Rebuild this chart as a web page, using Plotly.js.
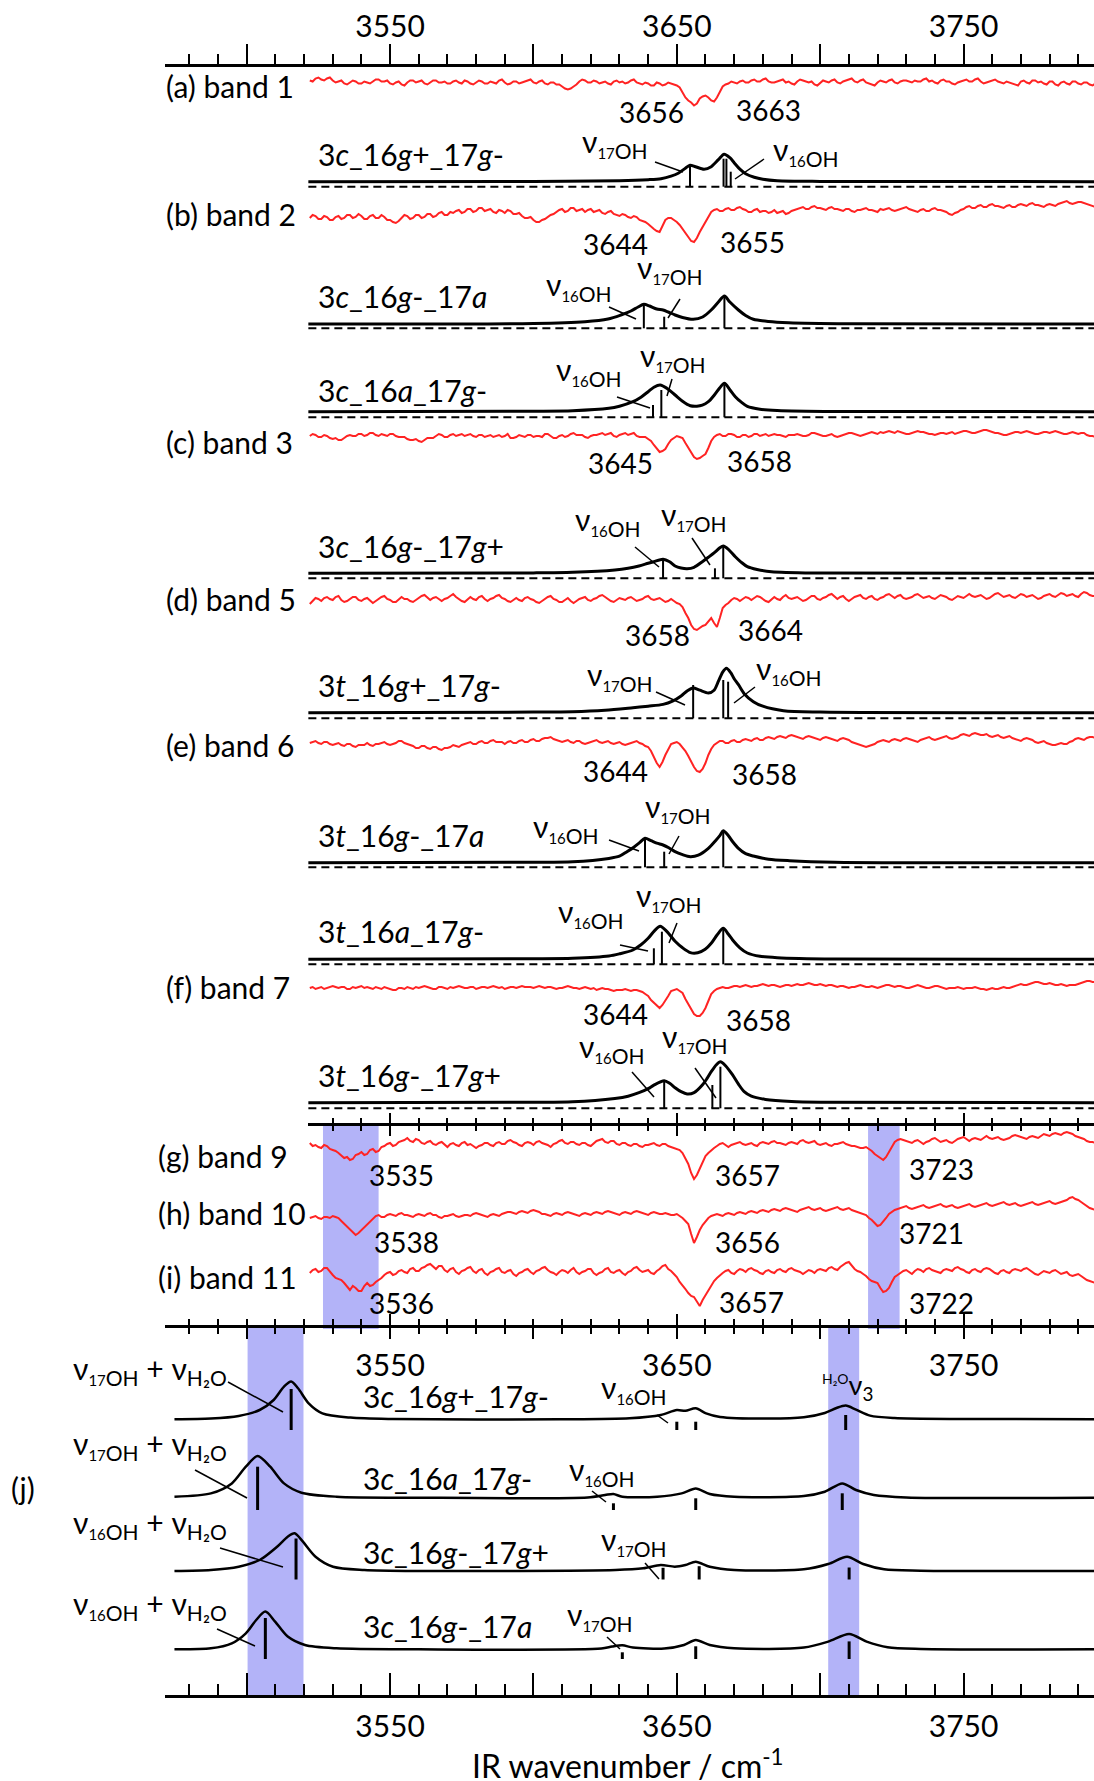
<!DOCTYPE html>
<html><head><meta charset="utf-8">
<script src="https://cdn.plot.ly/plotly-3.0.1.min.js"></script>
<style>html,body{margin:0;padding:0;background:#fff}#chart{width:1094px;height:1781px}</style>
</head><body><div id="chart"></div>
<script>
// ================= DATA =================
// IR wavenumber grid of the experimental (depletion) spectra, cm-1 (even and odd points)
const wn = [3522,3524,3526,3528,3530,3532,3534,3536,3538,3540,
3542,3544,3546,3548,3550,3552,3554,3556,3558,3560,
3562,3564,3566,3568,3570,3572,3574,3576,3578,3580,
3582,3584,3586,3588,3590,3592,3594,3596,3598,3600,
3602,3604,3606,3608,3610,3612,3614,3616,3618,3620,
3622,3624,3626,3628,3630,3632,3634,3636,3638,3640,
3642,3644,3646,3648,3650,3652,3654,3656,3658,3660,
3662,3664,3666,3668,3670,3672,3674,3676,3678,3680,
3682,3684,3686,3688,3690,3692,3694,3696,3698,3700,
3702,3704,3706,3708,3710,3712,3714,3716,3718,3720,
3722,3724,3726,3728,3730,3732,3734,3736,3738,3740,
3742,3744,3746,3748,3750,3752,3754,3756,3758,3760,
3762,3764,3766,3768,3770,3772,3774,3776,3778,3780,
3782,3784,3786,3788,3790,3792,3794,3796];
const wnOdd = [3523,3525,3527,3529,3531,3533,3535,3537,3539,3541,
3543,3545,3547,3549,3551,3553,3555,3557,3559,3561,
3563,3565,3567,3569,3571,3573,3575,3577,3579,3581,
3583,3585,3587,3589,3591,3593,3595,3597,3599,3601,
3603,3605,3607,3609,3611,3613,3615,3617,3619,3621,
3623,3625,3627,3629,3631,3633,3635,3637,3639,3641,
3643,3645,3647,3649,3651,3653,3655,3657,3659,3661,
3663,3665,3667,3669,3671,3673,3675,3677,3679,3681,
3683,3685,3687,3689,3691,3693,3695,3697,3699,3701,
3703,3705,3707,3709,3711,3713,3715,3717,3719,3721,
3723,3725,3727,3729,3731,3733,3735,3737,3739,3741,
3743,3745,3747,3749,3751,3753,3755,3757,3759,3761,
3763,3765,3767,3769,3771,3773,3775,3777,3779,3781,
3783,3785,3787,3789,3791,3793,3795];

// experimental IR-UV depletion signals (arb. units, 0 = baseline, negative = depletion)
const band1 = [2,4,3,4,2,1,-1,0,1,-1, 0,1,3,1,-1,0,-2,0,2,1, -1,0,2,0,-1,1,0,2,-1,0, 1,-1,0,2,0,-1,1,0,2,0,
 1,-1,0,-2,-4,-7,-4,1,2,0, 1,0,-1,1,0,-1,2,0,-2,-1, -3,-1,-2,-1,-3,-10,-18,-23,-16,-13, -18,-15,-4,-1,0,1,0,2,1,3,
 1,0,2,0,-1,1,2,0,-2,0, 1,2,0,1,3,1,2,0,-2,0, 1,2,0,1,2,0,1,3,1,0, 2,1,-1,0,2,1,3,1,0,2, 1,-1,0,-2,1,0,2,0,-1,1, -2,0,-1,1,-1,0,-2,-1];
const band1Odd = [1,5,2,5,0,2,-2,2,-1,1, -1,3,1,2,-2,1,-3,2,0,2, -2,2,0,1,-1,2,-1,1,-2,2, -1,1,-1,3,-2,1,-1,1,3,-1,
 2,-2,0,-2,-6,-6,-2,3,0,2, -1,1,-2,2,1,0,3,-1,0,-3, 0,-3,0,-2,-5,-15,-20,-21,-14,-15, -19,-10,-2,1,-1,2,0,3,1,4,
 0,1,3,1,-2,3,1,1,-3,2, 0,3,-1,2,4,0,3,-1,-3,2, 0,3,-1,2,1,2,1,4,2,-1, 3,1,-2,1,3,1,4,-1,1,3, 0,1,-1,-3,2,-1,2,1,-2,1, -3,1,-2,1,-2,0,-3];
const band2 = [-6,-4,-7,-5,-8,-4,-6,-3,-5,-4, -7,-3,-6,-5,-8,-11,-6,-4,-6,-3, -5,-2,-4,0,-3,-1,2,0,3,1, 4,2,0,2,-1,1,-2,-4,-6,-8,
 -10,-7,-3,0,3,1,4,2,0,3, 1,-1,0,-2,-4,-3,-6,-5,-9,-12, -17,-20,-8,-6,-10,-17,-26,-30,-20,-10, 0,3,1,4,2,5,2,0,3,1,
 -1,2,0,-2,1,3,5,3,6,4, 2,5,3,1,3,0,2,4,2,0, 2,4,1,3,5,2,0,3,1,4, 2,0,-3,0,3,6,4,7,5,8, 6,4,7,5,8,6,9,7,5,8, 6,9,11,8,10,9,7,5];
const band2Odd = [-3,-7,-4,-8,-5,-7,-3,-6,-2,-7, -4,-6,-3,-8,-10,-9,-3,-7,-3,-6, -2,-5,-1,-3,0,1,-1,3,0,4,
 1,3,-1,1,2,-2,-1,-6,-5,-10, -8,-5,-2,2,0,4,1,3,2,0, 2,-2,1,-3,-2,-5,-4,-8,-10,-15, -19,-14,-6,-8,-13,-22,-29,-26,-15,-4,
 2,1,3,2,4,3,0,2,0,1, 0,-1,1,-1,2,4,3,5,4,3, 4,3,2,3,1,2,3,2,1,3, 3,2,2,4,3,1,2,1,3,2, 1,-2,-1,2,5,4,6,5,7,6,
 5,6,5,7,7,8,7,6,7,7, 8,10,9,9,10,8,6];
const band3 = [0,1,-1,0,-3,-4,-2,1,0,2, 1,3,0,1,2,0,-1,-3,-4,-5, -4,-2,0,1,-1,2,1,0,2,-1, 1,0,-1,1,0,-2,-1,0,1,-1,
 0,2,0,-2,1,0,3,1,-1,0, 1,3,2,0,1,3,2,0,-1,-3, -9,-16,-13,-4,0,-2,-12,-21,-22,-18, -5,1,0,2,1,-1,1,0,2,1,
 0,2,1,-1,1,2,0,1,3,1, 0,2,-1,1,3,2,0,2,4,2, 3,5,3,4,2,3,5,4,2,1, 3,2,4,3,5,4,3,5,6,4, 3,1,2,4,3,5,3,2,4,3, 5,3,2,4,2,3,0,-1];
const band3Odd = [2,-1,1,-2,-2,-4,0,0,2,0, 3,1,2,0,2,-1,-1,-4,-3,-6, -2,-2,2,-1,1,0,2,1,0,1, -1,1,0,-1,2,-2,1,-1,1,0,
 -1,2,-2,0,-1,2,1,1,-2,1, 2,1,3,-1,2,1,3,-1,-1,-5, -13,-15,-8,-2,-1,-7,-17,-23,-20,-12, -1,2,0,2,-1,1,-1,2,0,2,
 1,1,0,1,1,1,0,3,2,0, 1,0,0,2,3,1,1,3,3,4, 4,4,5,3,2,4,4,3,2,2, 3,3,2,4,5,3,4,6,5,3, 2,1,3,4,4,4,2,3,4,4, 4,2,3,3,3,1,0];
const band5 = [-4,2,-1,3,0,4,-2,1,3,-1, 2,-3,1,4,0,-2,3,1,-2,2, 5,0,3,-1,2,6,1,-2,3,0, 4,-1,2,5,1,-2,2,-1,3,0,
 -3,1,4,0,-2,2,-3,1,3,-1, 2,5,1,-2,2,0,3,-1,1,4, 0,2,-2,1,-3,-7,-18,-29,-28,-25, -18,-27,-8,-3,2,-1,3,0,4,1,
 -2,3,0,5,1,3,-1,2,4,0, 3,6,1,4,-1,3,5,1,4,0, 3,6,2,5,1,3,6,2,4,1, 5,3,0,4,2,6,3,5,1,4, 7,3,5,2,6,3,5,1,4,6, 3,7,4,6,3,8,5,4];
const band5Odd = [-1,1,2,1,3,0,-1,3,0,1, -1,-1,3,1,-2,1,1,-1,0,4, 2,2,1,1,4,3,-1,1,1,3, 1,1,4,2,-1,0,0,2,1,-2,
 -1,3,1,-2,0,-1,-1,2,0,1, 4,3,-1,0,1,2,1,0,3,1, 1,0,-1,-1,-4,-13,-25,-30,-26,-22, -23,-18,-5,0,1,1,2,2,3,-1,
 1,1,3,2,2,1,0,4,1,2, 5,3,3,1,1,4,2,3,1,2, 5,4,4,2,2,5,4,3,2,3, 4,1,2,3,4,4,4,3,2,6, 5,4,3,4,5,4,3,2,5,4, 5,6,5,4,6,7,4];
const band6 = [0,2,-1,1,-2,0,-3,-1,-4,-2, 0,-3,-1,1,-2,0,2,-1,-3,-5, -3,-6,-4,-7,-5,-2,-4,-1,1,-1, 2,0,3,1,-1,2,0,3,1,4,
 2,5,6,3,1,3,0,2,-1,1, 3,0,2,-1,1,-2,0,2,-1,-4, -14,-24,-12,-1,1,-4,-13,-24,-29,-20, -6,0,2,0,3,1,4,2,5,3,
 6,4,7,5,8,6,4,7,5,3, 6,4,2,5,3,0,-2,-4,-2,1, 3,1,4,2,5,3,1,4,6,3, 5,7,4,6,9,7,10,8,9,6, 8,5,7,4,2,5,3,0,2,-1, -2,0,-1,2,5,3,6,5];
const band6Odd = [1,0,1,-1,-1,-2,-1,-3,-2,-2, -2,-1,0,-1,-1,2,0,-2,-5,-3, -5,-4,-6,-5,-4,-3,-2,0,-1,1, 0,2,1,1,1,0,2,1,3,2,
 4,5,4,2,2,1,2,0,0,2, 1,1,0,0,-1,-1,1,0,-3,-8, -20,-19,-6,0,-1,-8,-19,-28,-26,-12, -2,2,0,2,1,3,3,4,3,5,
 5,6,6,7,7,5,6,6,4,5, 5,3,4,4,1,-1,-3,-3,-1,2, 2,3,3,4,4,2,3,5,4,4, 6,5,5,8,8,9,9,8,7,7, 6,6,5,3,4,4,1,1,0,-2, -1,-1,1,4,4,5,6];
const band7 = [0,-1,1,0,2,0,1,-1,0,2, 1,-1,0,1,-1,-2,0,1,-1,0, 2,0,-1,1,-1,0,2,0,1,-1, 1,0,2,0,-1,1,0,2,1,0,
 2,0,1,-1,0,2,0,-1,1,-1, -2,0,-1,-3,-2,-1,-3,-2,-4,-8, -15,-20,-13,-3,-1,-5,-16,-26,-28,-20, -6,-1,1,0,2,1,3,1,2,4,
 2,3,1,3,2,4,3,5,3,4, 2,3,1,2,0,1,3,1,2,0, 2,3,1,2,0,1,3,1,0,2, 1,-1,0,1,-1,0,1,-1,-2,0, -1,1,0,2,4,3,5,6,4,5, 3,4,2,3,4,6,7,6];
const band7Odd = [1,0,-1,1,1,1,-1,1,1,0, 0,1,-1,0,-2,0,-1,0,1,1, 1,-1,1,0,1,1,1,0,1,0, 1,1,1,1,0,1,1,1,1,1,
 1,1,0,0,1,1,0,0,0,0, -1,-1,-2,-2,-2,-2,-2,-3,-6,-12, -18,-17,-8,-2,-3,-11,-21,-28,-25,-13, -3,0,0,1,2,2,2,2,3,3,
 3,2,2,3,3,3,4,4,3,3, 3,2,2,1,1,2,2,1,1,1, 3,2,2,1,0,2,2,0,1,2, 0,0,0,0,0,0,0,-1,-1,-1, 0,0,1,3,3,4,6,5,4,4, 3,3,3,3,5,7,6];
const band9 = [3,1,-2,0,-4,-7,-12,-14,-9,-6, -8,-3,-5,0,3,1,5,8,4,6, 2,5,1,4,-1,3,0,4,2,-2, 1,3,0,4,2,6,3,0,4,1,
 5,2,-1,3,6,2,4,1,3,0, 5,7,3,5,1,3,0,2,-1,1, 3,0,2,-1,-3,-7,-18,-33,-22,-10, -4,0,3,-1,2,4,1,3,0,4,
 2,5,3,1,4,2,6,3,5,1, 3,0,2,4,1,0,-2,-1,-5,-10, -14,-6,4,7,5,3,6,2,5,8, 4,6,3,7,9,5,8,6,10,7, 9,6,8,11,9,7,10,8,12,10, 13,11,14,12,9,7,4,3];
const band9Odd = [0,-1,1,-3,-5,-10,-11,-13,-8,-9, -4,-6,-1,2,0,4,6,5,7,3, 4,2,3,1,2,1,3,1,0,0, 3,1,3,2,5,4,1,3,3,4,
 3,1,2,5,3,4,2,3,1,3, 6,4,5,2,3,1,2,0,1,2, 1,2,0,-2,-4,-12,-27,-29,-15,-7, -2,2,1,1,3,2,2,1,3,3,
 4,3,2,3,3,5,4,4,2,2, 1,2,3,2,0,-1,-2,-3,-8,-12, -11,-1,6,6,4,5,4,4,7,6, 5,4,5,8,7,7,7,8,8,8, 7,7,10,10,8,9,9,10,11,12, 12,13,13,10,8,5,4];
const band10 = [0,2,-1,1,2,0,-6,-11,-17,-12, -7,0,3,1,4,2,5,3,1,4, 2,5,3,0,2,4,1,3,2,5, 3,1,4,2,5,6,4,7,5,8,
 6,4,2,5,3,6,4,2,5,3, 6,4,7,5,3,6,4,7,5,3, 6,4,5,3,4,0,-6,-25,-12,-3, 2,4,2,5,3,6,4,7,5,8,
 6,9,7,10,8,6,9,11,8,10, 7,9,11,8,10,7,5,3,-2,-8, -4,4,8,10,12,9,11,13,10,12, 14,11,13,10,12,14,11,13,15,12, 14,16,13,15,12,14,16,13,15,17, 14,16,18,21,18,14,10,8];
const band10Odd = [1,0,1,0,1,-3,-9,-14,-15,-9, -3,2,1,3,3,4,3,2,3,3, 4,3,1,2,3,2,2,3,4,4, 2,3,3,4,6,5,6,6,7,7,
 4,3,4,4,5,5,3,4,4,5, 5,6,6,4,5,5,6,6,4,5, 5,4,4,3,2,-3,-16,-19,-7,0, 3,3,4,4,5,5,6,6,7,7,
 8,8,9,9,7,8,10,9,9,8, 8,10,9,9,8,6,4,0,-5,-7, 0,6,9,11,10,10,12,11,11,13, 12,12,11,11,13,12,12,14,13,13, 15,14,14,13,13,15,14,14,16,15, 15,17,20,19,16,12,9];
const band11 = [0,4,2,5,-2,-6,-10,-17,-15,-18, -10,-12,-7,-2,1,-1,3,0,5,2, 6,9,4,7,1,5,-1,3,6,0, 4,-2,2,5,0,3,-3,1,4,-1,
 3,6,1,-2,3,0,5,-1,2,4, -2,1,5,0,3,-2,2,6,1,3, -1,4,8,2,-4,-12,-20,-24,-33,-22, -12,-5,0,3,-1,4,1,5,2,-1,
 3,0,4,1,5,2,-1,3,0,4, 2,6,3,8,11,4,1,-3,-8,-10, -19,-15,-4,0,3,-1,4,1,5,2, 0,4,2,6,3,0,4,1,5,2, -1,3,0,4,2,5,1,-2,2,0, 3,-1,1,-3,-1,-5,-8,-10];
const band11Odd = [3,1,5,1,-5,-7,-14,-13,-18,-13, -13,-9,-5,0,-2,2,1,4,2,5, 8,6,7,3,4,1,2,5,2,3, 0,1,4,1,2,-1,0,3,1,2,
 5,3,0,1,2,3,1,1,4,0, 0,4,1,2,0,1,5,3,2,0, 2,7,4,-1,-9,-16,-23,-29,-27,-17, -8,-2,2,0,2,3,4,3,0,2,
 1,3,2,4,3,1,1,2,3,3, 5,4,6,10,7,2,-1,-6,-9,-15, -18,-9,-2,2,1,2,3,4,3,1, 3,3,5,4,1,3,2,4,4,0, 2,1,3,3,4,3,-1,0,1,2, 1,0,-2,-2,-3,-7,-9];

// simulated IR spectra (wavenumber, intensity) and stick spectra (position, intensity)
const sim1X = [3521.5,3600,3630,3640,3644.5,3648,3650.5,3653,3654.6,3656.5,3659.5,3662,3664.5,3666.5,3668.5,3670,3672,3674,3677,3680,3685,3700,3796];
const sim1Y = [0,0.3,1,2,3,5.5,8.5,13.5,16.5,15,12.5,15,22,27.5,24,19,12.5,8,4.5,2.5,1,0.3,0];
const sim1SP = [3654.6,3666.3,3667.3,3668.8], sim1SI = [21.5,28,28,15];
const sim2X = [3521.5,3600,3618,3626,3630.5,3634,3636.5,3638.5,3640.5,3643,3645.2,3647,3649.4,3652,3655.7,3659,3662,3664.5,3666.6,3668.5,3671.5,3674,3676.7,3682,3689,3710,3796];
const sim2Y = [0,0.5,2.3,5,9,13,17,19.7,18,15,14,12,9,6.5,4.7,7,14,22,28,22,14,8.5,4.7,2.5,1.3,0.3,0];
const sim2SP = [3638.5,3645.6,3666.6], sim2SI = [24.3,11.6,31.6];
const sim3X = [3521.5,3600,3613.7,3626.3,3630,3634.7,3637.5,3640,3642,3644.2,3646.5,3649.4,3652,3654.7,3657,3658.9,3661,3663.1,3665,3666.6,3668.5,3670.4,3672.5,3674.6,3679,3685,3705,3796];
const sim3Y = [0,0.5,1,3.4,5.5,10,14.5,20,24.5,26.7,23.5,16.7,10.5,6,5.5,6.5,10,16.7,24,28.4,22,15,9.5,5.3,2.5,1.3,0.3,0];
const sim3SP = [3641.7,3644.6,3666.6], sim3SI = [12.3,27.3,32.3];
const sim4X = [3521.5,3600,3613.7,3628.4,3633,3636.8,3640,3642,3645.2,3647.5,3649.4,3651.5,3653.6,3656,3658.9,3661,3663.1,3665,3666.2,3668,3670.4,3672.5,3674.6,3678,3683,3697.7,3796];
const sim4Y = [0,0.4,1,3.3,5,7.3,10,11.6,14,11.5,7.3,5.3,4.6,6,11.6,16,20.6,25.5,27.3,24,16.6,11,6.6,3.8,1.6,0.3,0];
const sim4SP = [3645.2,3663.3,3666.2], sim4SI = [19,10,31.6];
const sim5X = [3521.5,3600,3613.7,3625,3634.7,3640,3645.2,3648.5,3651.5,3653.7,3655.7,3658,3661,3663,3664.6,3666,3667.3,3668.8,3670,3671.5,3673.5,3676.7,3680,3687.2,3700,3796];
const sim5Y = [0,0.6,1,2.5,5,6.5,8.3,11.5,16.7,22,24.7,22.5,19.7,22.5,32,40.5,44.4,40,34,28,19,11,6.5,2,0.6,0];
const sim5SP = [3655.7,3666.2,3667.9], sim5SI = [33.3,38.3,36.6];
const sim6X = [3521.5,3600,3613.7,3626.3,3630,3632.6,3635,3637,3638.9,3641,3643,3645.2,3647.2,3649.4,3652,3654.7,3657.5,3661,3663.5,3665,3666.2,3668,3669.5,3671.5,3674,3676.7,3682,3689.3,3705,3796];
const sim6Y = [0,0.4,1,4.3,6.5,11,15.5,20,24.4,22,19.5,17.7,15,11,8,6,7.5,14.3,22,27,32,27,21,14.3,9,6.7,3.5,2,0.5,0];
const sim6SP = [3638.9,3645.6,3666.2], sim6SI = [29,15.6,35.6];
const sim7X = [3521.5,3600,3613.7,3626.3,3630,3634.7,3637.5,3640,3642.2,3644.2,3646.5,3649.4,3652,3654.7,3657.3,3659.9,3662,3664.1,3666.2,3668,3669.4,3672,3674.6,3679,3685,3705,3796];
const sim7Y = [0,0.5,1,3.3,5.5,9.3,14.5,21,28.5,33,28,18,11.5,6.7,6.5,10,16,24.5,31,25,19.6,11.5,6.3,3,1.6,0.3,0];
const sim7SP = [3642,3644.8,3666.2], sim7SI = [16,32.6,36];
const sim8X = [3521.5,3600,3613.7,3628.4,3633,3636.8,3640,3642,3645.6,3647.5,3649.4,3651.5,3653.6,3656,3658.9,3660.5,3662,3663.8,3665.2,3667,3669.4,3671.5,3673.5,3676,3680.9,3690,3700,3796];
const sim8Y = [0,0.5,1,4.3,6.5,10,14,17.6,22,19.5,15,11,8.7,10,17.6,24,31,38,41,37,28,18.5,11,6.5,3.3,1.2,0.5,0];
const sim8SP = [3645.6,3662.4,3665.2], sim8SI = [26.6,23.3,41.6];
// (j) spectra including the combination region
const j1X = [3474.8,3487.5,3497.2,3504.5,3509.4,3513,3515.5,3517.9,3521.6,3526.4,3536.2,3550.8,3609,3633.5,3644.4,3650,3653,3656.6,3660.2,3665.1,3682.1,3694.3,3701.6,3705.7,3708.9,3712.5,3717.4,3725.9,3750,3796];
const j1Y = [0,0.7,3.3,9.3,19.3,32.7,37.7,31,16,6,1.7,0.3,0,1,4.3,9.3,8.5,11,6,2.3,0.7,2,6.3,11.3,13.7,9.7,3.7,1.3,0.3,0];
const j1SP = [3515.5,3650,3656.6,3708.9], j1SI = [41,8.3,8.3,15];
const j2X = [3474.8,3487.5,3494.8,3499.7,3503.8,3508.2,3513,3519.1,3531.3,3560,3618.9,3625,3627.9,3631,3643.2,3651.7,3656.6,3661.5,3670,3694.3,3701.6,3707.7,3712.5,3718.7,3730,3796];
const j2Y = [1,4.3,14.3,31,41.7,31,14.3,5,1,0,0.3,2.7,3.7,1,1,4.3,9.3,3.7,1,1.7,6,14.3,7.7,2.7,0.3,0];
const j2SP = [3503.8,3627.9,3656.6,3707.7], j2SI = [43.3,6.7,11.7,16.7];
const j3X = [3474.8,3487.5,3497.2,3504.5,3510.6,3514.3,3516.7,3519.6,3524,3530.1,3541,3560,3628.6,3638.3,3644.4,3649.3,3653,3656.6,3661.5,3670,3694.3,3702.8,3709.4,3715,3722.3,3735,3796];
const j3Y = [0,1,4.3,11,24.3,34.3,37.7,29.3,14.3,4.3,1,0,1,2.7,6,4.3,6,9.3,4.3,1,1.7,7,14.3,7,1.7,0.3,0];
const j3SP = [3517.2,3645.2,3657.8,3710.1], j3SI = [41,11.7,13.3,12];
const j4X = [3474.8,3487.5,3494.8,3499.7,3503.3,3506.5,3509.9,3514.3,3520.3,3531.3,3560,3623.7,3627.4,3631,3634.7,3645.6,3652.5,3656.6,3661.5,3670,3694.3,3702.8,3710.1,3716.2,3723.5,3735,3796];
const j4Y = [0,1,6,16,29.3,37.7,27.7,12.7,4.3,1,0,0.7,2.7,4,1.7,0.7,4.3,9.3,4.3,1,1.7,7.7,15.3,7.7,2,0.3,0];
const j4SP = [3506.5,3631,3656.6,3710.1], j4SI = [41,6.7,12.7,17.6];

// highlighted wavenumber regions
const hlExp = [[3526.6,3546],[3716.7,3727.7]];
const hlSim = [[3500.3,3519.8],[3702.8,3713.6]];

// axis ticks
const tickVals = [3500,3550,3600,3650,3700,3750];
const tickText = ['','3550','','3650','','3750'];

// ================= LAYOUT / STYLE =================
const W = 1094, H = 1781, L = 165;
const XR = [3471.5, 3795.5];
const PXPERCM = (W - L) / (XR[1] - XR[0]);
const X = px => (px - L) / (W - L);
const Y = py => 1 - py / H;
const FONT = 'Lato, "Noto Sans", "DejaVu Sans", sans-serif';
const RED = '#ff2323';
const BLUE = '#b3b3f8';

const traces = [];
const shapes = [];
const annotations = [];

// merge the even- and odd-wavenumber samples of a spectrum
function merge(a, b){ const out = []; a.forEach((v, i) => { out.push(v); if (i < b.length) out.push(b[i]); }); return out; }
const wnAll = merge(wn, wnOdd);

// experimental traces: [values, odd values, baseline px]
const expSet = [[band1, band1Odd, 82.5],[band2, band2Odd, 212],[band3, band3Odd, 436],[band5, band5Odd, 600],
  [band6, band6Odd, 743],[band7, band7Odd, 988],[band9, band9Odd, 1146],[band10, band10Odd, 1218],[band11, band11Odd, 1273]];
expSet.forEach(([v, vo, base]) => {
  traces.push({type:'scatter', mode:'lines', x: wnAll, y: merge(v, vo).map(d => base - d),
    line:{color:RED, width:2}, hoverinfo:'skip', showlegend:false});
});

function stickTrace(pos, hts, zero, width){
  const x = [], y = [];
  pos.forEach((p, i) => { x.push(p, p, null); y.push(zero, zero - hts[i], null); });
  return {type:'scatter', mode:'lines', x, y, line:{color:'black', width}, hoverinfo:'skip', showlegend:false};
}
// simulated traces: [x, y, stickPos, stickInt, curveBase, stickZero, dashed?]
const simSet = [
  [sim1X, sim1Y, sim1SP, sim1SI, 181.7, 186.7, true],
  [sim2X, sim2Y, sim2SP, sim2SI, 324, 328.3, true],
  [sim3X, sim3Y, sim3SP, sim3SI, 411.7, 417.3, true],
  [sim4X, sim4Y, sim4SP, sim4SI, 573.3, 578.3, true],
  [sim5X, sim5Y, sim5SP, sim5SI, 712.7, 718.3, true],
  [sim6X, sim6Y, sim6SP, sim6SI, 862.7, 867.3, true],
  [sim7X, sim7Y, sim7SP, sim7SI, 959.3, 964.3, true],
  [sim8X, sim8Y, sim8SP, sim8SI, 1102.7, 1108.3, true],
  [j1X, j1Y, j1SP, j1SI, 1419.3, 1430, false],
  [j2X, j2Y, j2SP, j2SI, 1497.7, 1510, false],
  [j3X, j3Y, j3SP, j3SI, 1571, 1579.5, false],
  [j4X, j4Y, j4SP, j4SI, 1649.3, 1659, false]
];
simSet.forEach(([sx, sy, sp, si, base, zero, dashed]) => {
  traces.push({type:'scatter', mode:'lines', x: sx, y: sy.map(d => base - d),
    line:{color:'black', width: dashed ? 3 : 2.5, shape:'spline', smoothing:0.8}, hoverinfo:'skip', showlegend:false});
  traces.push(stickTrace(sp, si, zero, dashed ? 2 : 3));
  if (dashed) shapes.push({type:'line', xref:'x', yref:'y', x0: sx[0], x1: XR[1], y0: zero, y1: zero,
    line:{color:'black', width:2, dash:'8px,5px'}});
});

// highlight bands
hlExp.forEach(([a,b]) => shapes.push({type:'rect', layer:'below', xref:'x', yref:'y', x0:a, x1:b, y0:1123, y1:1329, fillcolor:BLUE, line:{width:0}}));
hlSim.forEach(([a,b]) => shapes.push({type:'rect', layer:'below', xref:'x', yref:'y', x0:a, x1:b, y0:1325, y1:1696, fillcolor:BLUE, line:{width:0}}));

// leader lines (px)
const leaders = [[655,162,683,172],[764,159,735,179],[609,307,636,319],[680,299,668,318],
 [617,397,650,408],[672,379,667,396],[635,547,659,567],[692,538,710,565],
 [656,692,685,705],[755,687,734,703],[609,840,639,851],[679,836,669,854],
 [620,945,648,951],[677,923,669,943],[632,1072,654,1097],[695,1068,716,1098],
 [228,1382,283,1412],[657,1415,668,1423],[195,1470,247,1498],[592,1491,606,1502],
 [220,1548,283,1567],[645,1563,659,1579],[217,1629,255,1646],[607,1637,620,1649]];
leaders.forEach(([x0,y0,x1,y1]) => shapes.push({type:'line', xref:'paper', yref:'paper',
  x0:X(x0), y0:Y(y0), x1:X(x1), y1:Y(y1), line:{color:'black', width:1.5}}));

function ann(text, px, py, size, xanchor){
  annotations.push({text, x:X(px), y:Y(py), xref:'paper', yref:'paper', showarrow:false,
    xanchor: xanchor || 'center', yanchor:'middle', font:{family:FONT, size: size || 30, color:'black'}});
}
const nu = iso => `ν<sub><span style="font-size:15px">${iso}</span>OH</sub>`;
const combo = iso => `ν<sub><span style="font-size:15px">${iso}</span>OH</sub> + ν<sub>H₂O</sub>`;

// panel labels
[['(a) band 1',164,86],['(b) band 2',164,214],['(c) band 3',164,442],['(d) band 5',164,599],
 ['(e) band 6',164,745],['(f) band 7',164,987],['(g) band 9',156,1156],['(h) band 10',156,1213],
 ['(i) band 11',156,1277],['(j)',9,1488]].forEach(([t,x,y]) => ann(t,x,y,30,'left'));
// peak position labels
[['3656',651,112],['3663',768,110],['3644',615,244],['3655',752,242],['3645',620,463],['3658',759,461],
 ['3658',657,635],['3664',770,630],['3644',615,771],['3658',764,774],['3644',615,1014],['3658',758,1020],
 ['3535',401,1175],['3657',747,1175],['3723',941,1169],['3538',406,1242],['3656',747,1242],['3721',931,1233],
 ['3536',401,1303],['3657',751,1302],['3722',941,1303]].forEach(([t,x,y]) => ann(t,x,y,28));
// conformer labels
[['3<i>c</i>_16<i>g</i>+_17<i>g</i>-',316,154],['3<i>c</i>_16<i>g</i>-_17<i>a</i>',316,296],
 ['3<i>c</i>_16<i>a</i>_17<i>g</i>-',316,390],['3<i>c</i>_16<i>g</i>-_17<i>g</i>+',316,546],
 ['3<i>t</i>_16<i>g</i>+_17<i>g</i>-',316,685],['3<i>t</i>_16<i>g</i>-_17<i>a</i>',316,835],
 ['3<i>t</i>_16<i>a</i>_17<i>g</i>-',316,931],['3<i>t</i>_16<i>g</i>-_17<i>g</i>+',316,1075],
 ['3<i>c</i>_16<i>g</i>+_17<i>g</i>-',361,1396],['3<i>c</i>_16<i>a</i>_17<i>g</i>-',361,1478],
 ['3<i>c</i>_16<i>g</i>-_17<i>g</i>+',361,1552],['3<i>c</i>_16<i>g</i>-_17<i>a</i>',361,1626]
].forEach(([t,x,y]) => ann(t,x,y,30,'left'));
// vibrational assignment labels
[[nu('17'),615,143],[nu('16'),806,151],[nu('16'),579,286],[nu('17'),670,269],
 [nu('16'),589,371],[nu('17'),673,357],[nu('16'),608,521],[nu('17'),694,516],
 [nu('17'),620,676],[nu('16'),789,670],[nu('16'),566,828],[nu('17'),678,808],
 [nu('16'),591,913],[nu('17'),669,897],[nu('16'),612,1048],[nu('17'),695,1038],
 [nu('16'),634,1389],[nu('16'),602,1471],[nu('17'),634,1541],[nu('17'),600,1616]
].forEach(([t,x,y]) => ann(t,x,y,30));
[[combo('17'),150,1370],[combo('17'),150,1445],[combo('16'),150,1524],[combo('16'),150,1605]]
 .forEach(([t,x,y]) => ann(t,x,y,30));
ann('<sup><span style="font-size:14px">H₂O</span></sup>ν<sub>3</sub>', 847, 1386, 27);
ann('IR wavenumber / cm<sup>-1</sup>', 628, 1764, 32);

// axes
function axis(o){
  return Object.assign({range: XR.slice(), showgrid:false, zeroline:false, showline:true, linecolor:'black', linewidth:3,
    tickmode:'array', tickvals: tickVals, ticktext: tickText, tickcolor:'black', tickwidth:2,
    tickfont:{family:FONT, size:30, color:'black'}, fixedrange:true, anchor:'free'}, o);
}
const minor = (dir, len) => ({tickmode:'linear', tick0:3500, dtick:10, ticks:dir, ticklen:len, tickwidth:2, tickcolor:'black'});
const midStart = XR[0] + (308 - L) / PXPERCM;
const layout = {
  width: W, height: H, margin:{l:L, r:0, t:0, b:0}, paper_bgcolor:'white', plot_bgcolor:'rgba(0,0,0,0)',
  showlegend:false,
  xaxis: axis({side:'top', position:Y(65), ticks:'outside', ticklen:20, minor:minor('outside',10), ticklabelstandoff:-5}),
  xaxis2: axis({overlaying:'x', side:'bottom', position:Y(1696), ticks:'inside', ticklen:22, minor:minor('inside',11), ticklabelstandoff:3}),
  xaxis3: axis({domain:[X(308),1], range:[midStart, XR[1]], side:'bottom', position:Y(1124), ticks:'outside', ticklen:10, minor:minor('outside',5), showticklabels:false}),
  xaxis4: axis({overlaying:'x3', domain:[X(308),1], range:[midStart, XR[1]], side:'bottom', position:Y(1124), ticks:'inside', ticklen:10, minor:minor('inside',5), showticklabels:false}),
  xaxis5: axis({overlaying:'x', side:'bottom', position:Y(1326), ticks:'outside', ticklen:11, minor:minor('outside',6), ticklabelstandoff:1}),
  xaxis6: axis({overlaying:'x', side:'bottom', position:Y(1326), ticks:'inside', ticklen:11, minor:minor('inside',6), showticklabels:false}),
  yaxis: {range:[H, 0], domain:[0,1], visible:false, fixedrange:true, showgrid:false, zeroline:false},
  shapes, annotations
};
['x2','x3','x4','x5','x6'].forEach(ax => traces.push({type:'scatter', mode:'lines', x:[], y:[], xaxis:ax, yaxis:'y', hoverinfo:'skip', showlegend:false}));

Plotly.newPlot('chart', traces, layout, {staticPlot:true, displayModeBar:false});
</script>
</body></html>
